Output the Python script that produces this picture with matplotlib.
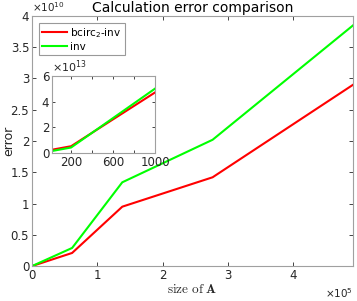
import matplotlib
matplotlib.use('Agg')
import matplotlib.pyplot as plt
from matplotlib.ticker import ScalarFormatter

plt.rcParams['font.family'] = ['DejaVu Sans']
plt.rcParams['mathtext.fontset'] = 'dejavusans'

# main plot data
size_A = [0, 0.6144e5, 1.3824e5, 2.7648e5, 4.9152e5]
err_bcirc = [0, 0.21e10, 0.95e10, 1.42e10, 2.90e10]
err_inv = [0, 0.29e10, 1.34e10, 2.02e10, 3.85e10]

# inset data
size_small = [20, 200, 1000]
err_bcirc_small = [0.25e13, 0.52e13, 4.72e13]
err_inv_small = [0.15e13, 0.42e13, 5.02e13]

txt = '#262626'
axc = '#a0a0a0'


class SciFmt(ScalarFormatter):
    def __init__(self):
        super().__init__(useMathText=True)
        self.set_powerlimits((0, 0))

    def _set_format(self):
        self.format = '%g'


fig = plt.figure(figsize=(3.57, 3.01), dpi=100)
ax = fig.add_axes([0.0896, 0.116, 0.8994, 0.831])
ax.plot(size_A, err_bcirc, color='#ff0000', lw=1.5, label='bcirc$_2$-inv')
ax.plot(size_A, err_inv, color='#00ff00', lw=1.5, label='inv')
ax.set_xlim(0, 4.9152e5)
ax.set_ylim(0, 4e10)
ax.set_xticks([0, 1e5, 2e5, 3e5, 4e5])
ax.set_yticks([0, 0.5e10, 1e10, 1.5e10, 2e10, 2.5e10, 3e10, 3.5e10, 4e10])
ax.xaxis.set_major_formatter(SciFmt())
ax.yaxis.set_major_formatter(SciFmt())
ax.set_title('Calculation error comparison', fontsize=10, color='black', pad=3)
ax.set_xlabel(r'$\mathrm{size\ of\ }\mathbf{A}$', fontsize=9.5, color=txt, labelpad=1,
              math_fontfamily='cm')
ax.set_ylabel('error', fontsize=9, color=txt)
ax.yaxis.set_label_coords(-0.052, 0.5)
ax.tick_params(direction='in', top=True, right=True, labelsize=8.5, colors=txt,
               length=3, width=0.6, pad=2)
ax.xaxis.get_offset_text().set_fontsize(7.5)
ax.yaxis.get_offset_text().set_fontsize(7.5)
for s in ax.spines.values():
    s.set_color(axc)
    s.set_linewidth(0.8)
leg = ax.legend(loc='upper left', bbox_to_anchor=(0.012, 0.985), fontsize=7.5,
                frameon=True, fancybox=False, borderpad=0.3, labelspacing=0.2,
                handlelength=2.4, handletextpad=0.3, borderaxespad=0.3)
leg.get_frame().set_edgecolor('#808080')
leg.get_frame().set_linewidth(0.8)

# inset
ins = fig.add_axes([0.146, 0.492, 0.289, 0.256])
ins.plot(size_small, err_bcirc_small, color='#ff0000', lw=1.5)
ins.plot(size_small, err_inv_small, color='#00ff00', lw=1.5)
ins.set_xlim(20, 1000)
ins.set_ylim(0, 6e13)
ins.set_xticks([200, 400, 600, 800, 1000])
ins.set_xticklabels(['200', '', '600', '', '1000'])
ins.set_yticks([0, 2e13, 4e13, 6e13])
ins.yaxis.set_major_formatter(SciFmt())
ins.tick_params(direction='in', top=True, right=True, labelsize=8.5, colors=txt,
                length=2.5, width=0.6, pad=2)
ins.yaxis.get_offset_text().set_fontsize(8)
for s in ins.spines.values():
    s.set_color(axc)
    s.set_linewidth(0.8)

fig.savefig('out.png', dpi=100)
